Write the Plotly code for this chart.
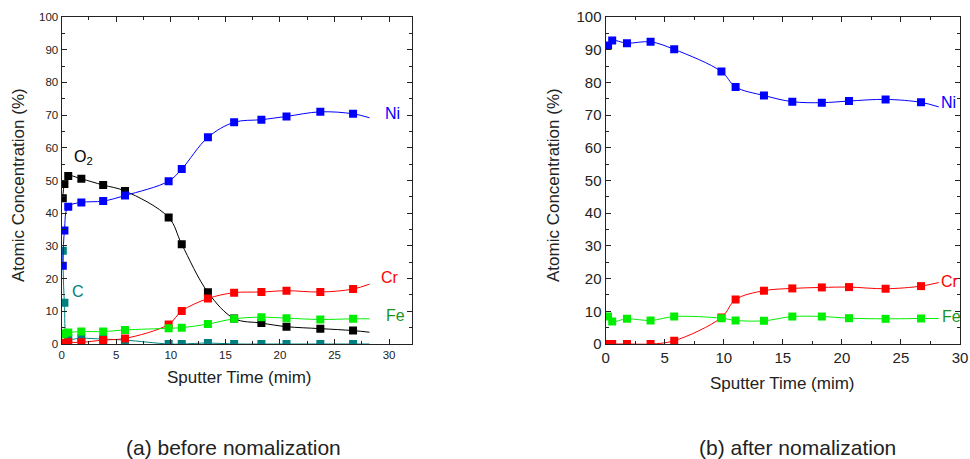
import plotly.graph_objects as go

# Sputter times (min); the last entry of each list is where the fitted curve ends (no marker there)
time_a = [0.1, 0.25, 0.6, 1.8, 3.8, 5.8, 9.8, 11.0, 13.4, 15.8, 18.3, 20.6, 23.7, 26.7, 28.2]
time_b = [0.2, 0.55, 1.8, 3.8, 5.8, 9.8, 11.0, 13.4, 15.8, 18.3, 20.6, 23.7, 26.7, 28.2]

# (a) before normalization, atomic concentration (%)
c_a = [28.5, 12.6, 1.8, 1.8, 1.5, 1.2, 0.0, 0.0, 0.3, 0.0, 0.0, 0.0, 0.0, 0.0, 0.0]
o2_a = [44.6, 48.9, 51.4, 50.5, 48.6, 46.8, 38.7, 30.5, 15.8, 7.8, 6.4, 5.3, 4.7, 4.1, 3.6]
ni_a = [23.9, 34.7, 42.0, 43.3, 43.7, 45.4, 49.8, 53.5, 63.2, 67.8, 68.6, 69.6, 71.0, 70.4, 69.2]
cr_a = [0.3, 0.4, 0.5, 0.5, 1.2, 1.7, 6.0, 10.1, 13.9, 15.7, 15.9, 16.3, 15.9, 16.8, 18.3]
fe_a = [3.0, 3.3, 3.5, 3.8, 3.8, 4.3, 4.8, 5.0, 6.1, 7.7, 8.2, 7.9, 7.5, 7.7, 7.7]

# (b) after normalization, atomic concentration (%)
ni_b = [91.3, 92.8, 92.0, 92.4, 90.1, 83.3, 78.6, 76.0, 74.1, 73.8, 74.3, 74.8, 73.9, 72.5]
cr_b = [0.0, 0.0, 0.0, 0.0, 1.0, 8.1, 13.6, 16.3, 17.0, 17.3, 17.4, 16.9, 17.7, 18.8]
fe_b = [8.4, 6.9, 7.7, 7.2, 8.4, 7.9, 7.2, 7.1, 8.4, 8.4, 7.9, 7.7, 7.8, 7.8]

x_ticks = [0, 5, 10, 15, 20, 25, 30]
y_ticks = [0, 10, 20, 30, 40, 50, 60, 70, 80, 90, 100]

BLUE, RED, GREEN, BLACK, TEAL = "#0000ff", "#ff0000", "#00ee00", "#000000", "#008080"
FE_TEXT = "#1d931d"
FONT = "Liberation Sans, Arial, sans-serif"
INK = "#222222"

fig = go.Figure()


def add_series(t, v, color, xa, ya):
    # smooth fitted curve through all points, then the measured points as squares
    fig.add_trace(go.Scatter(x=t, y=v, mode="lines", line=dict(color=color, width=1, shape="spline"),
                             xaxis=xa, yaxis=ya, showlegend=False, hoverinfo="skip"))
    fig.add_trace(go.Scatter(x=t[:-1], y=v[:-1], mode="markers",
                             marker=dict(symbol="square", size=8, color=color, line=dict(width=0)),
                             xaxis=xa, yaxis=ya, showlegend=False))


for series, color in [(c_a, TEAL), (o2_a, BLACK), (ni_a, BLUE), (cr_a, RED), (fe_a, GREEN)]:
    add_series(time_a, series, color, "x", "y")
for series, color in [(ni_b, BLUE), (cr_b, RED), (fe_b, GREEN)]:
    add_series(time_b, series, color, "x2", "y2")


def axis(size, minor_dtick, **kw):
    return dict(showline=True, linecolor=INK, linewidth=1.3, mirror="ticks", ticks="inside",
                tickcolor=INK, tickwidth=1, ticklen=5, showgrid=False, zeroline=False, automargin=False,
                tickfont=dict(family=FONT, color=INK, size=size),
                minor=dict(ticks="inside", ticklen=3, dtick=minor_dtick, tick0=0, tickcolor=INK), **kw)


fig.update_layout(
    width=970, height=459, margin=dict(l=0, r=0, t=0, b=0, autoexpand=False),
    paper_bgcolor="white", plot_bgcolor="white",
    xaxis=axis(11.5, 2.5, domain=[61.7 / 970, 412 / 970], range=[0, 32.1], tickvals=x_ticks, anchor="y"),
    yaxis=axis(11.5, 5, domain=[115 / 459, 442 / 459], range=[0, 100], tickvals=y_ticks, anchor="x"),
    xaxis2=axis(15, 2.5, domain=[605.7 / 970, 960 / 970], range=[0, 30], tickvals=x_ticks, anchor="y2"),
    yaxis2=axis(15, 5, domain=[115 / 459, 442 / 459], range=[0, 100], tickvals=y_ticks, anchor="x2"),
)

ann = []
# axis titles
for xc, yc in ((239, 377), (782.5, 383)):
    ann.append(dict(x=xc / 970, y=(459 - yc) / 459, xref="paper", yref="paper",
                    text="Sputter Time (mim)", showarrow=False, xanchor="center", yanchor="middle",
                    font=dict(family=FONT, size=17, color=INK)))
for xc in (18, 553):
    ann.append(dict(x=xc / 970, y=(459 - 185) / 459, xref="paper", yref="paper", textangle=-90,
                    text="Atomic Concentration (%)", showarrow=False, xanchor="center", yanchor="middle",
                    font=dict(family=FONT, size=17, color=INK)))
# captions
ann.append(dict(x=233 / 970, y=(459 - 447) / 459, xref="paper", yref="paper", text="(a) before nomalization",
                showarrow=False, xanchor="center", yanchor="middle", font=dict(family=FONT, size=21, color=INK)))
ann.append(dict(x=797 / 970, y=(459 - 447) / 459, xref="paper", yref="paper", text="(b) after nomalization",
                showarrow=False, xanchor="center", yanchor="middle", font=dict(family=FONT, size=21, color=INK)))

# element labels on panel (a)
for txt, xv, yv, col in [("Ni", 29.4, 70.5, BLUE), ("Cr", 29.1, 20.3, RED), ("Fe", 29.5, 8.6, FE_TEXT),
                         ("C", 0.75, 16.0, TEAL), ("O<sub>2</sub>", 0.95, 57.0, BLACK)]:
    ann.append(dict(x=xv, y=yv, xref="x", yref="y", text=txt, showarrow=False, xanchor="left",
                    yanchor="middle", font=dict(family=FONT, size=16, color=col)))
# element labels on panel (b)
for txt, xv, yv, col in [("Ni", 28.25, 73.8, BLUE), ("Cr", 28.25, 19.0, RED), ("Fe", 28.3, 8.4, FE_TEXT)]:
    ann.append(dict(x=xv, y=yv, xref="x2", yref="y2", text=txt, showarrow=False, xanchor="left",
                    yanchor="middle", font=dict(family=FONT, size=16, color=col)))

fig.update_layout(annotations=ann)
fig.write_html("out.html")
